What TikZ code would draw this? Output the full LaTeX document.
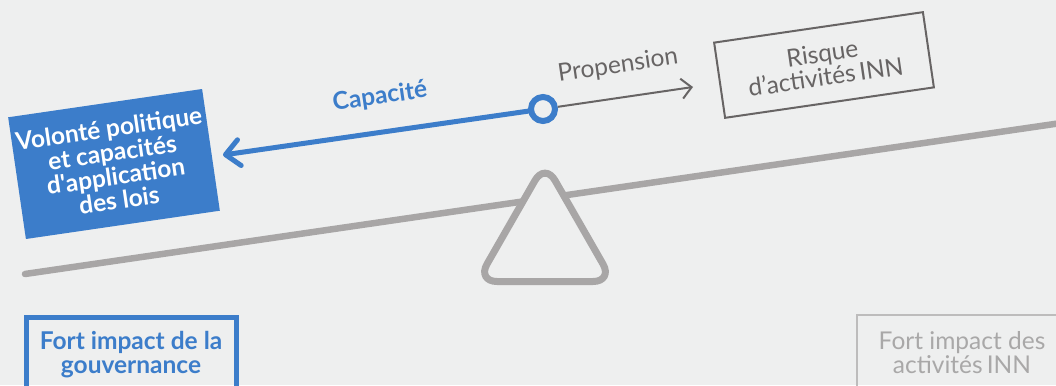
\documentclass[tikz,border=0pt]{standalone}
\usepackage{fontspec}
\setmainfont{Lato}
\usetikzlibrary{positioning,calc,arrows.meta}

\definecolor{bgGray}{HTML}{EEEFEF}
\definecolor{lawBlue}{HTML}{3C7DCA}
\definecolor{beamGray}{HTML}{A8A6A6}
\definecolor{darkGray}{HTML}{676464}
\definecolor{lightGray}{HTML}{BDBCBC}
\definecolor{paleText}{HTML}{A9A8A8}

\begin{document}
\begin{tikzpicture}[x=1pt, y=-1pt,
        txt/.style={font=\fontsize{24.5}{24}\selectfont, align=center},
        boldtxt/.style={font=\fontsize{24.5}{24}\selectfont\bfseries, align=center},
        tilted/.style={rotate=8.3},
        bluebox/.style={boldtxt, tilted, fill=lawBlue, text=white,
            minimum width=196pt, minimum height=123pt, inner sep=0pt},
        riskbox/.style={txt, tilted, draw=darkGray, line width=2pt, text=darkGray,
            minimum width=211pt, minimum height=76pt, inner sep=0pt},
        impactbox/.style={anchor=north, minimum width=210pt, minimum height=76pt, inner sep=0pt},
        pivot/.style={circle, draw=lawBlue, line width=6pt, fill=bgGray, minimum size=24pt, inner sep=0pt},
        fulcrum/.style={draw=beamGray, fill=bgGray, line width=7pt, rounded corners=20pt, line join=round},
        beam/.style={draw=beamGray, line width=6.5pt, line cap=round}
    ]
        % Frame
        \fill[bgGray] (0,0) rectangle (1056,385);
        \clip (0,0) rectangle (1056,385);

        % Seesaw beam and fulcrum
        \coordinate (beamL) at (25,274);
        \coordinate (beamR) at (1075,121);
        \draw[beam] (beamL) -- (beamR);
        \draw[fulcrum] (545,281.5) -- (613,281.5) -- (545,163) -- (477,281.5) -- cycle;

        % Blocks on the beam
        \node [bluebox] (will) at (114,164) {Volonté politique\\et capacités\\d\textquotesingle application\\des lois};
        \node [riskbox] (risk) at (824,65) {Risque\\d’activités\,INN};
        \node [pivot] (pv) at (543,109) {};

        % Connections
        \coordinate (capTip) at (223,155);
        \coordinate (propTip) at (693,87);
        \draw [lawBlue, line width=5pt, line cap=round,
            -{Straight Barb[length=14pt, width=26pt, round]}] (pv) -- (capTip);
        \draw [darkGray, line width=2pt,
            -{Straight Barb[length=10pt, width=20pt]}] (pv) -- (propTip);
        \node [boldtxt, tilted, text=lawBlue] (cap) at (380,97) {Capacité};
        \node [txt, tilted, text=darkGray] (prop) at (618,66) {Propension};

        % Impact boxes
        \node [impactbox, boldtxt, draw=lawBlue, line width=5pt, text=lawBlue]
            (gov) at (131,314.5) {Fort impact de la\\gouvernance};
        \node [impactbox, txt, draw=lightGray, line width=2pt, text=paleText]
            (inn) at (962,314) {Fort impact des\\activités\,INN};
    \end{tikzpicture}
\end{document}
